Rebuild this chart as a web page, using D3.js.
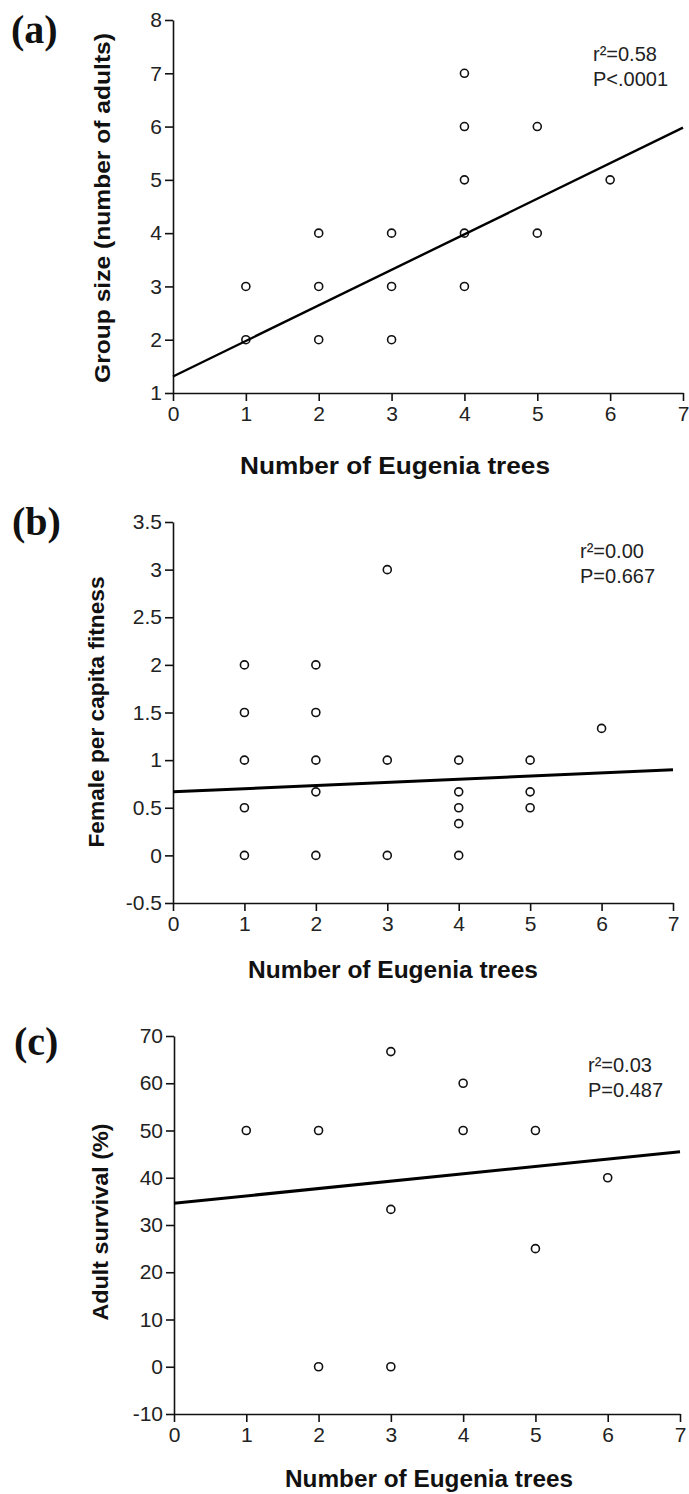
<!DOCTYPE html>
<html>
<head>
<meta charset="utf-8">
<script src="https://cdn.jsdelivr.net/npm/d3@7"></script>
<style>
  html, body { margin: 0; padding: 0; background: #fff; }
  svg { display: block; }
</style>
</head>
<body>
<svg id="chart" width="689" height="1494"></svg>
<script>
// ---------- Data ----------
const xTickValues = [0, 1, 2, 3, 4, 5, 6, 7];

// Panel (a): group size vs number of Eugenia trees
const treesA = [1, 1, 2, 2, 2, 3, 3, 3, 4, 4, 4, 4, 4, 5, 5, 6];
const groupSize = [3, 2, 4, 3, 2, 4, 3, 2, 7, 6, 5, 4, 3, 6, 4, 5];
const yTicksA = [1, 2, 3, 4, 5, 6, 7, 8];
const fitXA = [0, 7];
const fitYA = [1.31, 5.98];
const statsA = ["r²=0.58", "P<.0001"];

// Panel (b): female per capita fitness
const treesB = [1, 1, 1, 1, 1, 2, 2, 2, 2, 2, 3, 3, 3, 4, 4, 4, 4, 4, 5, 5, 5, 6];
const fitness = [2, 1.5, 1, 0.5, 0, 2, 1.5, 1, 0.667, 0, 3, 1, 0, 1, 0.667, 0.5, 0.333, 0, 1, 0.667, 0.5, 1.333];
const yTicksB = [-0.5, 0, 0.5, 1, 1.5, 2, 2.5, 3, 3.5];
const fitXB = [0, 7];
const fitYB = [0.667, 0.9];
const statsB = ["r²=0.00", "P=0.667"];

// Panel (c): adult survival (%)
const treesC = [1, 2, 2, 3, 3, 3, 4, 4, 5, 5, 6];
const survival = [50, 50, 0, 66.7, 33.3, 0, 60, 50, 50, 25, 40];
const yTicksC = [-10, 0, 10, 20, 30, 40, 50, 60, 70];
const fitXC = [0, 7];
const fitYC = [34.6, 45.5];
const statsC = ["r²=0.03", "P=0.487"];

const xTitle = "Number of Eugenia trees";

// ---------- Drawing ----------
const svg = d3.select("#chart");
svg.append("rect").attr("width", 689).attr("height", 1494).attr("fill", "#fff");

const numFmt = d => String(d); // plain hyphen-minus like the original

function panel(cfg) {
  const g = svg.append("g");
  const x = d3.scaleLinear().domain([0, 7]).range([cfg.x0, cfg.x1]);
  const y = d3.scaleLinear().domain(cfg.yDomain).range([cfg.yb, cfg.yt]);

  // axes
  const yAxis = d3.axisLeft(y).tickValues(cfg.yTicks).tickSize(8).tickSizeOuter(0).tickPadding(3)
    .tickFormat(numFmt);
  const gy = g.append("g").attr("transform", `translate(${cfg.x0},0)`).call(yAxis);
  const xAxis = d3.axisBottom(x).tickValues(xTickValues).tickSize(8).tickSizeOuter(0).tickPadding(5)
    .tickFormat(numFmt);
  const gx = g.append("g").attr("transform", `translate(0,${cfg.yb})`).call(xAxis);
  [gx, gy].forEach(a => {
    a.attr("font-size", 21).attr("font-family", "Liberation Sans, Arial, sans-serif");
    a.select(".domain").attr("stroke", "#111").attr("stroke-width", 1.6);
    a.selectAll(".tick line").attr("stroke", "#111").attr("stroke-width", 1.6);
    a.selectAll(".tick text").attr("fill", "#222");
  });

  // points
  const pts = cfg.xs.map((v, i) => [v, cfg.ys[i]]);
  g.append("g").selectAll("circle").data(pts).join("circle")
    .attr("cx", d => x(d[0])).attr("cy", d => y(d[1])).attr("r", 4)
    .attr("fill", "#fff").attr("stroke", "#111").attr("stroke-width", 1.6);

  // regression line
  const line = d3.line().x(d => x(d[0])).y(d => y(d[1]));
  g.append("path").datum(cfg.fitX.map((v, i) => [v, cfg.fitY[i]]))
    .attr("d", line).attr("fill", "none").attr("stroke", "#000").attr("stroke-width", cfg.lw);

  // stats text
  cfg.stats.forEach((s, i) => {
    g.append("text").attr("x", cfg.statX).attr("y", cfg.statY + i * 25)
      .attr("font-family", "Liberation Sans, Arial, sans-serif").attr("font-size", 20)
      .attr("fill", "#222").text(s);
  });

  // panel label
  g.append("text").attr("x", cfg.labX).attr("y", cfg.labY)
    .attr("font-family", "Liberation Serif, Times New Roman, serif").attr("font-weight", "bold")
    .attr("font-size", 40).attr("fill", "#111").text(cfg.label);

  // x title
  g.append("text").attr("x", cfg.xtX).attr("y", cfg.xtY)
    .attr("font-family", "Liberation Sans, Arial, sans-serif").attr("font-weight", "bold")
    .attr("font-size", 23).attr("text-anchor", "middle").attr("fill", "#111")
    .attr("textLength", cfg.xtLen).attr("lengthAdjust", "spacingAndGlyphs").text(xTitle);

  // y title
  g.append("text").attr("transform", `translate(${cfg.ytX},${cfg.ytY}) rotate(-90)`)
    .attr("font-family", "Liberation Sans, Arial, sans-serif").attr("font-weight", "bold")
    .attr("font-size", 22).attr("text-anchor", "middle").attr("fill", "#111")
    .attr("textLength", cfg.ytLen).attr("lengthAdjust", "spacingAndGlyphs").text(cfg.yTitle);
}

panel({
  x0: 173, x1: 683, yb: 393, yt: 20, yDomain: [1, 8], yTicks: yTicksA,
  xs: treesA, ys: groupSize, fitX: fitXA, fitY: fitYA, lw: 2.4,
  stats: statsA, statX: 593, statY: 61,
  label: "(a)", labX: 11, labY: 43,
  xtX: 395, xtY: 474, xtLen: 310,
  yTitle: "Group size (number of adults)", ytX: 110, ytY: 208, ytLen: 350
});

panel({
  x0: 173, x1: 673, yb: 903, yt: 522, yDomain: [-0.5, 3.5], yTicks: yTicksB,
  xs: treesB, ys: fitness, fitX: fitXB, fitY: fitYB, lw: 3,
  stats: statsB, statX: 580, statY: 558,
  label: "(b)", labX: 12, labY: 535,
  xtX: 393, xtY: 978, xtLen: 290,
  yTitle: "Female per capita fitness", ytX: 104, ytY: 712, ytLen: 271
});

panel({
  x0: 174, x1: 680, yb: 1414, yt: 1036, yDomain: [-10, 70], yTicks: yTicksC,
  xs: treesC, ys: survival, fitX: fitXC, fitY: fitYC, lw: 3,
  stats: statsC, statX: 588, statY: 1072,
  label: "(c)", labX: 14, labY: 1055,
  xtX: 429, xtY: 1487, xtLen: 288,
  yTitle: "Adult survival (%)", ytX: 108, ytY: 1222, ytLen: 197
});
</script>
</body>
</html>
